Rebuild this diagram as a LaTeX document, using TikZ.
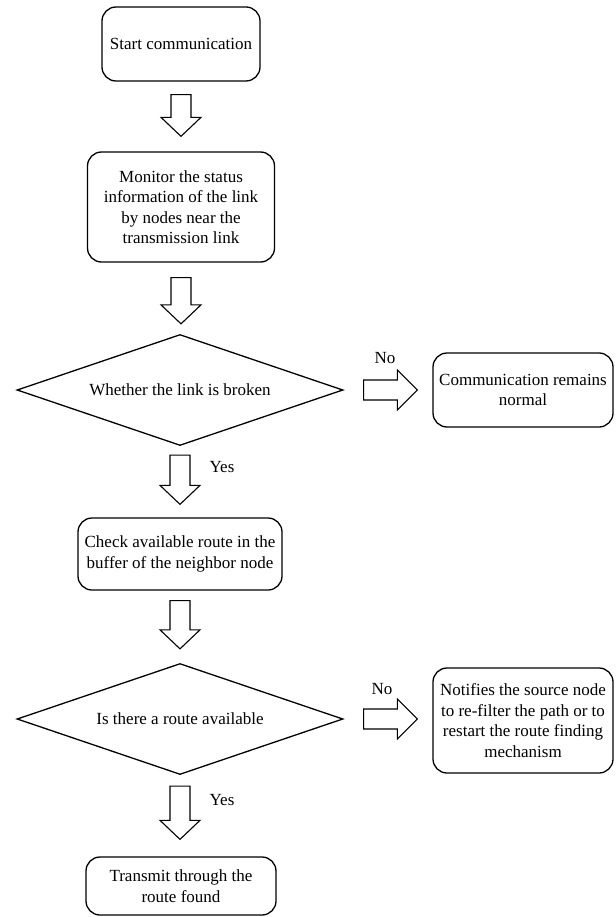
\documentclass[tikz,border=0pt]{standalone}
\usepackage{fontspec}
\setmainfont{Liberation Serif}
\usetikzlibrary{shapes.geometric,calc}
\tikzset{
  txt/.style={font=\fontsize{17}{20.5}\selectfont},
  box/.style={draw, line width=1.3pt, rounded corners=14pt, align=center, inner sep=0pt, txt},
  dia/.style={draw, diamond, aspect=2.9, line width=1.3pt, inner sep=0pt, minimum width=326pt, minimum height=111pt, align=center, txt},
  fat/.style={draw, line width=1.1pt, fill=white, line join=miter},
  lbl/.style={inner sep=0pt, txt}
}
\newcommand{\fatdown}[4]{%
  \draw[fat] let \p1=($(#1.south)+(0,-#3pt)$), \p2=($(#2.north)+(0,#4pt)$) in
    (\x1-10pt,\y1) -- (\x1+10pt,\y1) -- (\x1+10pt,\y2+19pt) -- (\x1+20pt,\y2+19pt)
    -- (\x1,\y2) -- (\x1-20pt,\y2+19pt) -- (\x1-10pt,\y2+19pt) -- cycle;}
\newcommand{\fatright}[4]{%
  \draw[fat] let \p1=($(#1.east)+(#3pt,0)$), \p2=($(#2.west)+(-#4pt,0)$) in
    (\x1,\y1-10pt) -- (\x2-20pt,\y1-10pt) -- (\x2-20pt,\y1-20pt) -- (\x2,\y1)
    -- (\x2-20pt,\y1+20pt) -- (\x2-20pt,\y1+10pt) -- (\x1,\y1+10pt) -- cycle;}
\begin{document}
\begin{tikzpicture}[x=1pt,y=-1pt]
\useasboundingbox (0,0) rectangle (615,917);
\node[box, minimum width=158pt, minimum height=74pt] (start) at (181,44) {Start communication};
\node[box, minimum width=187pt, minimum height=110pt] (mon) at (181,207) {Monitor the status\\information of the link\\by nodes near the\\transmission link};
\node[dia] (d1) at (180,390) {Whether the link is broken};
\node[box, minimum width=180pt, minimum height=74pt] (comm) at (523,390) {Communication remains\\normal};
\node[box, minimum width=204pt, minimum height=72pt] (check) at (180,554) {Check available route in the\\buffer of the neighbor node};
\node[dia] (d2) at (180,719) {Is there a route available};
\node[box, minimum width=180pt, minimum height=105pt] (notif) at (523,720.5) {Notifies the source node\\to re-filter the path or to\\restart the route finding\\mechanism};
\node[box, minimum width=190pt, minimum height=58pt] (trans) at (181,886) {Transmit through the\\route found};
\fatdown{start}{mon}{13}{15}
\fatdown{mon}{d1}{15}{10}
\fatdown{d1}{check}{9}{13}
\fatdown{check}{d2}{10}{14}
\fatdown{d2}{trans}{11}{17}
\fatright{d1}{comm}{20}{15}
\fatright{d2}{notif}{20}{15}
\node[lbl] (no1) at (385,358) {No};
\node[lbl] (no2) at (382,689) {No};
\node[lbl] (yes1) at (222,467) {Yes};
\node[lbl] (yes2) at (222,800) {Yes};
\end{tikzpicture}
\end{document}
